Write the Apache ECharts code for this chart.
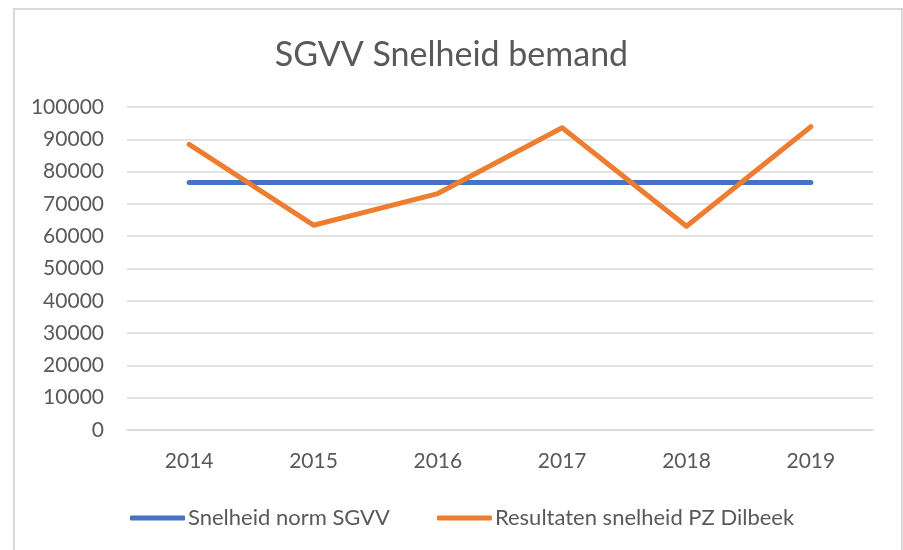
<!DOCTYPE html>
<html>
<head>
<meta charset="utf-8">
<script src="https://cdn.jsdelivr.net/npm/echarts@6/dist/echarts.min.js"></script>
<style>
  html, body { margin: 0; padding: 0; background: #fff; }
  #main { width: 903px; height: 550px; }
</style>
</head>
<body>
<div id="main"></div>
<script>
// data
var years = ['2014', '2015', '2016', '2017', '2018', '2019'];
var normSGVV = [76600, 76600, 76600, 76600, 76600, 76600];
var resultatenPZ = [88400, 63400, 73200, 93600, 63100, 93900];
var yTicks = [0, 10000, 20000, 30000, 40000, 50000, 60000, 70000, 80000, 90000, 100000];

var chart = echarts.init(document.getElementById('main'));

var font = 'Lato, "Open Sans", sans-serif';

var option = {
  animation: false,
  textStyle: { fontFamily: font },
  // kader rond de grafiek
  graphic: [{
    type: 'rect',
    silent: true,
    shape: { x: 14, y: 9, width: 888, height: 560 },
    style: { fill: 'none', stroke: '#D9D9D9', lineWidth: 2 }
  }],
  title: {
    text: 'SGVV Snelheid bemand',
    left: 'center',
    top: 33,
    textStyle: { fontFamily: font, fontSize: 34, fontWeight: 'normal', color: '#595959' }
  },
  legend: {
    left: 125,
    top: 502,
    icon: 'roundRect',
    itemWidth: 55,
    itemHeight: 5,
    itemGap: 47,
    textStyle: { fontFamily: font, fontSize: 22, color: '#595959', padding: [0, 0, 0, -2] },
    data: ['Snelheid norm SGVV', 'Resultaten snelheid PZ Dilbeek']
  },
  grid: { left: 127, right: 30, top: 107, bottom: 120 },
  xAxis: {
    type: 'category',
    data: years,
    boundaryGap: true,
    axisLine: { show: true, lineStyle: { color: '#D9D9D9', width: 1.5 } },
    axisTick: { show: false },
    axisLabel: { fontFamily: font, fontSize: 21, color: '#595959', margin: 21 }
  },
  yAxis: {
    type: 'value',
    min: yTicks[0],
    max: yTicks[yTicks.length - 1],
    interval: yTicks[1] - yTicks[0],
    axisLine: { show: false },
    axisTick: { show: false },
    splitLine: { lineStyle: { color: '#D9D9D9', width: 1.5 } },
    axisLabel: {
      fontFamily: font, fontSize: 21, color: '#595959', margin: 23,
      formatter: function (v) { return String(v); }
    }
  },
  series: [
    {
      name: 'Snelheid norm SGVV',
      type: 'line',
      data: normSGVV,
      showSymbol: false,
      symbol: 'none',
      itemStyle: { color: '#4472C4' },
      lineStyle: { color: '#4472C4', width: 5, cap: 'round', join: 'round' }
    },
    {
      name: 'Resultaten snelheid PZ Dilbeek',
      type: 'line',
      data: resultatenPZ,
      showSymbol: false,
      symbol: 'none',
      itemStyle: { color: '#ED7D31' },
      lineStyle: { color: '#ED7D31', width: 5, cap: 'round', join: 'round' }
    }
  ]
};

chart.setOption(option);
</script>
</body>
</html>
